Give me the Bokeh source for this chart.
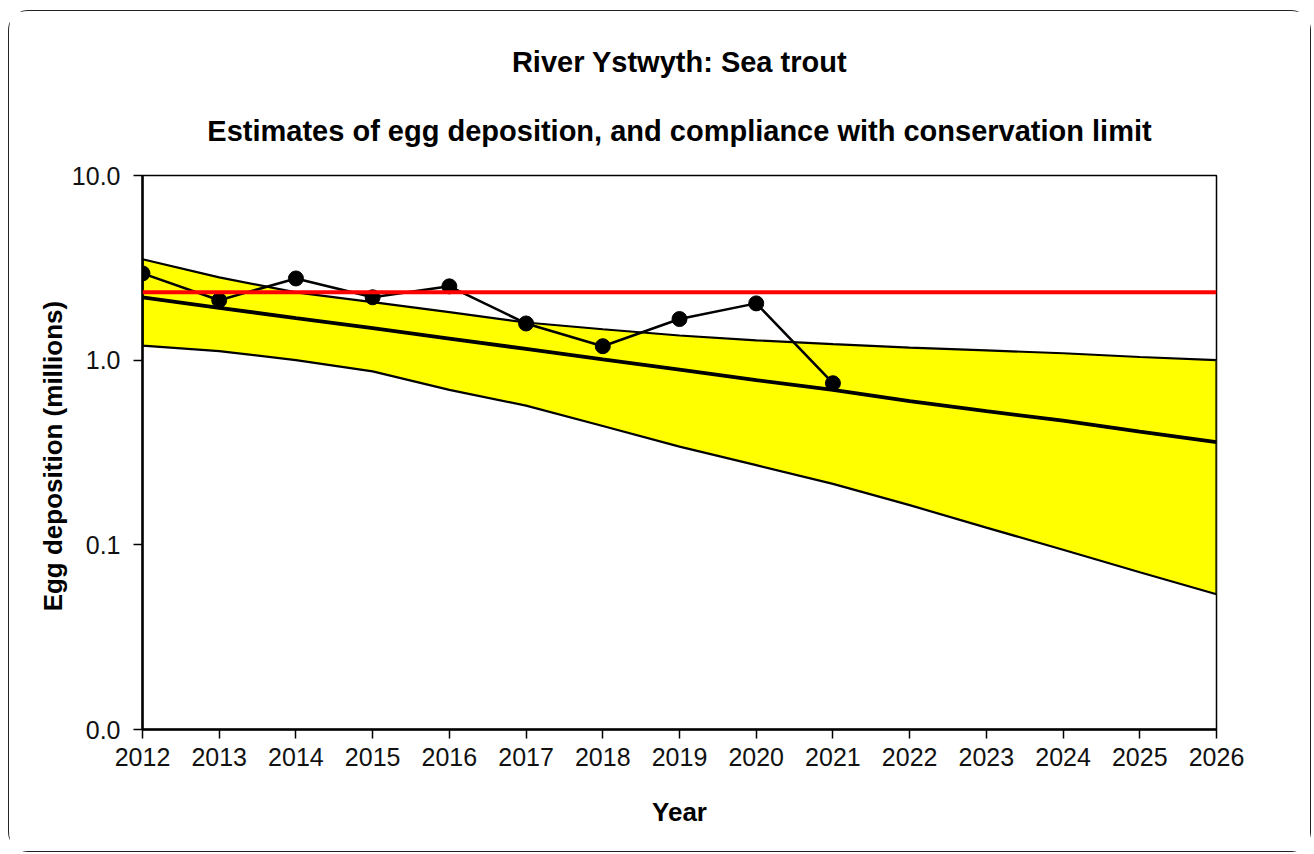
from bokeh.plotting import figure
from bokeh.models import Range1d, FixedTicker, Title, Span, ColumnDataSource
from bokeh.embed import file_html
from bokeh.resources import INLINE

# ---- data ----
years_obs = [2012, 2013, 2014, 2015, 2016, 2017, 2018, 2019, 2020, 2021]
egg_obs = [2.95, 2.11, 2.77, 2.19, 2.51, 1.58, 1.19, 1.67, 2.03, 0.75]

years_fit = [2012, 2013, 2014, 2015, 2016, 2017, 2018, 2019, 2020, 2021,
             2022, 2023, 2024, 2025, 2026]
fit_mid = [2.19, 1.92, 1.69, 1.49, 1.31, 1.15, 1.01, 0.89, 0.78, 0.69,
           0.60, 0.53, 0.47, 0.41, 0.36]
fit_upper = [3.52, 2.81, 2.33, 2.06, 1.82, 1.60, 1.47, 1.36, 1.28, 1.22,
             1.17, 1.13, 1.09, 1.04, 1.00]
fit_lower = [1.20, 1.12, 1.00, 0.87, 0.69, 0.567, 0.44, 0.34, 0.27, 0.214,
             0.164, 0.124, 0.094, 0.071, 0.054]
conservation_limit = 2.33

y_ticks = [0.01, 0.1, 1, 10]
y_tick_labels = ["0.0", "0.1", "1.0", "10.0"]
x_ticks = list(range(2012, 2027))

FONT = "Liberation Sans"

p = figure(width=1303, height=842, output_backend="svg", toolbar_location=None,
           y_axis_type="log",
           x_range=Range1d(2012, 2026), y_range=Range1d(0.01, 10),
           min_border_left=133, min_border_right=96,
           min_border_top=164, min_border_bottom=124,
           background_fill_color="white", border_fill_color="white")

p.styles = {"border": "1.5px solid #222222", "border-radius": "20px",
            "margin-left": "8px", "margin-top": "10px"}

t_inner = Title(text="Estimates of egg deposition, and compliance with conservation limit",
                align="center", text_font=FONT, text_font_size="29px",
                text_font_style="bold", text_color="black", standoff=57)
t_outer = Title(text="River Ystwyth: Sea trout", align="center", text_font=FONT,
                text_font_size="29px", text_font_style="bold", text_color="black",
                standoff=13)
p.add_layout(t_inner, "above")
p.add_layout(t_outer, "above")

p.grid.visible = False
p.outline_line_color = "black"
p.outline_line_width = 1.5

# band
band_x = years_fit + years_fit[::-1]
band_y = fit_upper + fit_lower[::-1]
p.patch(band_x, band_y, fill_color="#FFFF00", line_color="black", line_width=2.2)

# fitted trend
p.line(years_fit, fit_mid, line_color="black", line_width=3.8)

# observed
src = ColumnDataSource(dict(year=years_obs, egg=egg_obs))
p.line("year", "egg", source=src, line_color="black", line_width=2.5)
p.scatter("year", "egg", source=src, size=15, fill_color="black", line_color="black")

# conservation limit
p.add_layout(Span(location=conservation_limit, dimension="width",
                  line_color="#FF0000", line_width=4))

# axes
xa = p.xaxis[0]
xa.ticker = FixedTicker(ticks=x_ticks)
xa.axis_label = "Year"
ya = p.yaxis[0]
ya.ticker = FixedTicker(ticks=y_ticks)
ya.major_label_overrides = {t: l for t, l in zip(y_ticks, y_tick_labels)}
ya.axis_label = "Egg deposition  (millions)"

for ax in (xa, ya):
    ax.minor_tick_line_color = None
    ax.major_tick_in = 0
    ax.major_tick_out = 9
    ax.major_tick_line_color = "black"
    ax.major_tick_line_width = 1.5
    ax.axis_line_color = "black"
    ax.axis_line_width = 2.5
    ax.major_label_text_font = FONT
    ax.major_label_text_font_size = "25px"
    ax.major_label_text_color = "#111111"
    ax.axis_label_text_font = FONT
    ax.axis_label_text_font_size = "26px"
    ax.axis_label_text_font_style = "bold"
    ax.axis_label_text_color = "black"

xa.major_label_standoff = 9
xa.axis_label_standoff = 28
ya.major_label_standoff = 13
ya.axis_label_standoff = 1

open("out.html", "w").write(file_html(p, INLINE))
